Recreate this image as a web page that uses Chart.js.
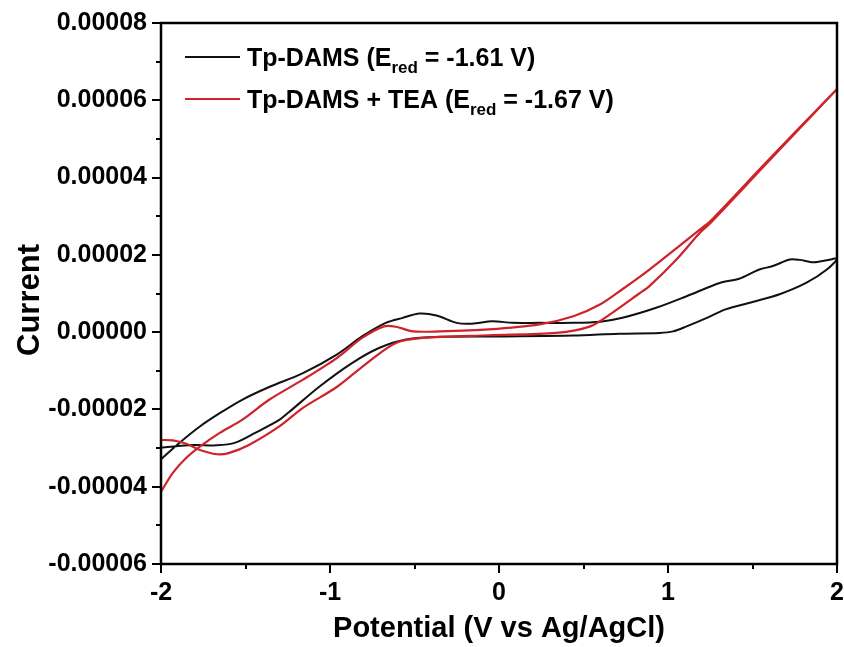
<!DOCTYPE html>
<html><head><meta charset="utf-8">
<script src="https://cdn.jsdelivr.net/npm/chart.js@4/dist/chart.umd.min.js"></script>
<style>html,body{margin:0;padding:0;background:#fff}#wrap{width:844px;height:647px}</style>
</head><body><div id="wrap"><canvas id="c" width="844" height="647"></canvas></div>
<script>
// Potential (V vs Ag/AgCl) and current (A) for each cyclic voltammogram
const tpDamsPotential = [-2.00,-1.89,-1.77,-1.65,-1.52,-1.36,-1.16,-0.96,-0.81,-0.67,-0.57,-0.47,-0.37,-0.25,-0.16,-0.04,0.08,0.24,0.44,0.60,0.73,0.93,1.11,1.31,1.42,1.54,1.62,1.72,1.78,1.86,1.94,2.00,
  1.94,1.82,1.66,1.50,1.34,1.23,1.11,1.03,0.95,0.71,0.44,0.04,-0.35,-0.55,-0.71,-0.87,-1.06,-1.24,-1.30,-1.44,-1.56,-1.67,-1.81,-2.00];
const tpDamsCurrent = [-3.29e-5,-2.86e-5,-2.44e-5,-2.09e-5,-1.75e-5,-1.42e-5,-1.06e-5,-0.58e-5,-0.11e-5,0.24e-5,0.37e-5,0.48e-5,0.43e-5,0.24e-5,0.22e-5,0.28e-5,0.24e-5,0.24e-5,0.24e-5,0.27e-5,0.37e-5,0.63e-5,0.93e-5,1.28e-5,1.38e-5,1.62e-5,1.71e-5,1.88e-5,1.87e-5,1.81e-5,1.86e-5,1.90e-5,
  1.62e-5,1.28e-5,0.98e-5,0.78e-5,0.59e-5,0.37e-5,0.15e-5,0.02e-5,-0.02e-5,-0.04e-5,-0.09e-5,-0.11e-5,-0.12e-5,-0.19e-5,-0.41e-5,-0.80e-5,-1.40e-5,-2.06e-5,-2.27e-5,-2.60e-5,-2.86e-5,-2.93e-5,-2.92e-5,-2.99e-5];
const teaPotential = [-2.00,-1.93,-1.85,-1.77,-1.65,-1.52,-1.36,-1.16,-0.96,-0.81,-0.68,-0.61,-0.51,-0.35,-0.06,0.24,0.44,0.60,0.73,0.89,1.19,1.25,1.58,2.00,
  1.58,1.25,1.19,1.05,0.89,0.83,0.67,0.54,0.34,-0.06,-0.45,-0.61,-0.77,-0.96,-1.16,-1.30,-1.48,-1.60,-1.67,-1.77,-1.85,-1.93,-2.00];
const teaCurrent = [-4.13e-5,-3.64e-5,-3.25e-5,-2.96e-5,-2.60e-5,-2.27e-5,-1.75e-5,-1.23e-5,-0.67e-5,-0.15e-5,0.15e-5,0.14e-5,0.02e-5,0.02e-5,0.07e-5,0.20e-5,0.41e-5,0.72e-5,1.11e-5,1.62e-5,2.66e-5,2.87e-5,4.39e-5,6.29e-5,
  4.35e-5,2.82e-5,2.58e-5,1.88e-5,1.19e-5,1.00e-5,0.50e-5,0.15e-5,-0.02e-5,-0.08e-5,-0.15e-5,-0.28e-5,-0.76e-5,-1.42e-5,-1.96e-5,-2.44e-5,-2.92e-5,-3.13e-5,-3.16e-5,-3.05e-5,-2.89e-5,-2.80e-5,-2.79e-5];
const seriesNames = ['Tp-DAMS', 'Tp-DAMS + TEA'];
const seriesEred = ['-1.61 V', '-1.67 V'];
const xTickValues = [-2, -1, 0, 1, 2];
const yTickValues = [-0.00006, -0.00004, -0.00002, 0, 0.00002, 0.00004, 0.00006, 0.00008];

const BLACK = '#111111', RED = '#cf2229';
const FONT = "'Liberation Sans', Arial, sans-serif";
const toPts = (xs, ys) => xs.map((x, i) => ({x, y: ys[i]}));

const framePlugin = {
  id: 'frame',
  afterDraw(chart) {
    const {ctx, chartArea: a, scales: {x, y}} = chart;
    ctx.save();
    ctx.strokeStyle = '#000';
    ctx.lineWidth = 2.5;
    ctx.strokeRect(a.left, a.top, a.right - a.left, a.bottom - a.top);
    ctx.lineWidth = 2;
    ctx.beginPath();
    for (let v = -2; v <= 2.0001; v += 0.5) {
      const px = Math.round(x.getPixelForValue(v));
      const len = Math.abs(v - Math.round(v)) < 1e-6 ? 9 : 5;
      ctx.moveTo(px, a.bottom); ctx.lineTo(px, a.bottom + len);
    }
    for (let k = -6; k <= 8; k++) {
      const py = Math.round(y.getPixelForValue(k * 1e-5));
      const len = k % 2 === 0 ? 9 : 5;
      ctx.moveTo(a.left, py); ctx.lineTo(a.left - len, py);
    }
    ctx.stroke();
    // y axis title (drawn centred a little lower, as in the reference)
    ctx.fillStyle = '#000';
    ctx.font = `bold 31px ${FONT}`;
    ctx.translate(30, 300);
    ctx.rotate(-Math.PI / 2);
    ctx.textAlign = 'center';
    ctx.textBaseline = 'middle';
    ctx.fillText('Current', 0, 0);
    ctx.setTransform(1, 0, 0, 1, 0, 0);
    // legend
    const colors = [BLACK, RED];
    const rows = [57, 99];
    ctx.textAlign = 'left';
    ctx.textBaseline = 'alphabetic';
    rows.forEach((ry, i) => {
      ctx.strokeStyle = colors[i];
      ctx.lineWidth = 2;
      ctx.beginPath(); ctx.moveTo(a.left + 24, ry); ctx.lineTo(a.left + 79, ry); ctx.stroke();
      ctx.fillStyle = '#000';
      let tx = a.left + 86;
      const base = ry + 9;
      ctx.font = `bold 25px ${FONT}`;
      const s1 = seriesNames[i] + ' (E';
      ctx.fillText(s1, tx, base); tx += ctx.measureText(s1).width;
      ctx.font = `bold 17px ${FONT}`;
      ctx.fillText('red', tx, base + 7); tx += ctx.measureText('red').width;
      ctx.font = `bold 25px ${FONT}`;
      ctx.fillText(' = ' + seriesEred[i] + ')', tx, base);
    });
    ctx.restore();
  }
};

new Chart(document.getElementById('c'), {
  type: 'scatter',
  data: {
    datasets: [
      {label: seriesNames[0], data: toPts(tpDamsPotential, tpDamsCurrent), showLine: true, borderColor: BLACK, borderWidth: 2, pointRadius: 0, tension: 0.3, order: 1},
      {label: seriesNames[1], data: toPts(teaPotential, teaCurrent), showLine: true, borderColor: RED, borderWidth: 2.2, pointRadius: 0, tension: 0.3, order: 0}
    ]
  },
  options: {
    responsive: false, animation: false, devicePixelRatio: 1,
    layout: {padding: {top: 23, right: 7, left: 0, bottom: 0}},
    plugins: {legend: {display: false}, tooltip: {enabled: false}},
    scales: {
      x: {
        type: 'linear', min: -2, max: 2,
        afterFit: s => { s.height = 83; s.paddingLeft = 0; s.paddingRight = 0; },
        afterBuildTicks: s => { s.ticks = xTickValues.map(v => ({value: v})); },
        ticks: {color: '#000', font: {family: FONT, weight: 'bold', size: 25}, padding: 5, maxRotation: 0, autoSkip: false,
          callback: v => String(v)},
        grid: {display: false, tickLength: 9},
        border: {display: false},
        title: {display: true, text: 'Potential (V vs Ag/AgCl)', color: '#000', font: {family: FONT, weight: 'bold', size: 29}, padding: {top: 0, bottom: 1}}
      },
      y: {
        type: 'linear', min: -0.00006, max: 0.00008,
        afterFit: s => { s.width = 161; s.paddingTop = 0; s.paddingBottom = 0; },
        afterBuildTicks: s => { s.ticks = yTickValues.map(v => ({value: v})); },
        ticks: {color: '#000', font: {family: FONT, weight: 'bold', size: 25}, padding: 5, autoSkip: false,
          callback: v => (Math.abs(v) < 1e-12 ? 0 : v).toFixed(5)},
        grid: {display: false, tickLength: 9},
        border: {display: false},
        title: {display: false}
      }
    }
  },
  plugins: [framePlugin]
});
</script>
</body></html>
